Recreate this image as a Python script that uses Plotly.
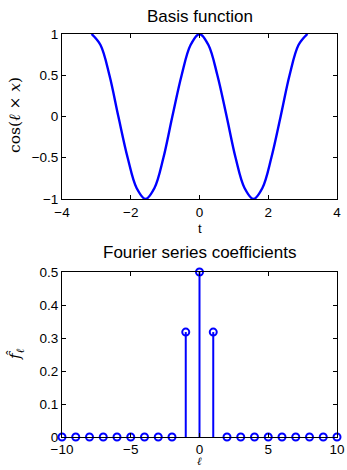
import plotly.graph_objects as go

# Basis function samples (t, cos(l*x))
t_vals = [-3.14, -2.88, -2.62, -2.36, -2.09, -1.83, -1.57, -1.31, -1.05, -0.79, -0.52, -0.26,
          0.0, 0.26, 0.52, 0.79, 1.05, 1.31, 1.57, 1.83, 2.09, 2.36, 2.62, 2.88, 3.14]
basis_vals = [1.0, 0.866, 0.5, 0.0, -0.5, -0.866, -1.0, -0.866, -0.5, 0.0, 0.5, 0.866,
              1.0, 0.866, 0.5, 0.0, -0.5, -0.866, -1.0, -0.866, -0.5, 0.0, 0.5, 0.866, 1.0]

# Fourier series coefficients
ell = list(range(-10, 11))
coef = [0, 0, 0, 0, 0, 0, 0, 0, 0, 0.318, 0.5, 0.318, 0, 0, 0, 0, 0, 0, 0, 0, 0]

blue = "#0000ff"
fig = go.Figure()

fig.add_trace(go.Scatter(x=t_vals, y=basis_vals, mode="lines", line=dict(color=blue, width=2.4, shape="spline"),
                         xaxis="x", yaxis="y", showlegend=False, cliponaxis=False))

stem_x, stem_y = [], []
for l, c in zip(ell, coef):
    stem_x += [l, l, None]
    stem_y += [0, c, None]
fig.add_trace(go.Scatter(x=stem_x, y=stem_y, mode="lines", line=dict(color=blue, width=2),
                         xaxis="x2", yaxis="y2", showlegend=False))
fig.add_trace(go.Scatter(x=ell, y=coef, mode="markers",
                         marker=dict(symbol="circle-open", size=7, color=blue, line=dict(width=2, color=blue)),
                         xaxis="x2", yaxis="y2", showlegend=False, cliponaxis=False))

xd = [62 / 347, 337 / 347]
axis_common = dict(showline=True, linecolor="black", linewidth=1, mirror="ticks", ticks="inside",
                   ticklen=4, tickcolor="black", showgrid=False, zeroline=False, automargin=False,
                   tickfont=dict(family="Liberation Sans, Arial", size=13.5, color="black"))

fig.update_layout(
    template="none",
    width=347, height=470, margin=dict(l=0, r=0, t=0, b=0, pad=0),
    paper_bgcolor="white", plot_bgcolor="white",
    xaxis=dict(domain=xd, range=[-4, 4], tickvals=[-4, -2, 0, 2, 4], anchor="y", ticklabelstandoff=1, **axis_common),
    yaxis=dict(domain=[1 - 199 / 470, 1 - 34 / 470], range=[-1, 1], tickvals=[-1, -0.5, 0, 0.5, 1],
               ticktext=["\u22121", "\u22120.5", "0", "0.5", "1"], anchor="x", **axis_common),
    xaxis2=dict(domain=xd, range=[-10, 10], tickvals=[-10, -5, 0, 5, 10], anchor="y2", ticklabelstandoff=0,
                **axis_common),
    yaxis2=dict(domain=[1 - 437 / 470, 1 - 272 / 470], range=[0, 0.5],
                tickvals=[0, 0.1, 0.2, 0.3, 0.4, 0.5], ticktext=["0", "0.1", "0.2", "0.3", "0.4", "0.5"],
                anchor="x2", **axis_common),
)

title_font = dict(family="Liberation Sans, Arial", size=17, color="black")
serif = dict(family="DejaVu Serif, Liberation Serif", size=15.5, color="black")
cx = (62 + 337) / 2 / 347
ann = [
    dict(text="Basis function", x=cx, y=1 - 16 / 470, font=title_font),
    dict(text="Fourier series coefficients", x=cx, y=1 - 252 / 470, font=title_font),
    dict(text="t", x=cx, y=1 - 228 / 470, font=dict(family="Liberation Sans, Arial", size=13, color="black")),
    dict(text="<i>\u2113</i>", x=cx, y=0.0, yanchor="bottom",
         font=dict(family="DejaVu Serif, Liberation Serif", size=11, color="black")),
    dict(text="cos(<i>\u2113</i> \u00d7 <i>x</i>)", x=15 / 347, y=1 - 115 / 470, textangle=-90, font=serif),
    dict(text="<i>f\u0302</i><sub><i>\u2113</i></sub>", x=16 / 347, y=1 - 354 / 470, textangle=-90, font=serif),
]
for a in ann:
    a.setdefault("yanchor", "middle")
    fig.add_annotation(xref="paper", yref="paper", showarrow=False, xanchor="center", **a)

fig.write_html("out.html", config={"displayModeBar": False},
               post_script="document.body.style.margin='0';document.body.style.overflow='hidden';")
